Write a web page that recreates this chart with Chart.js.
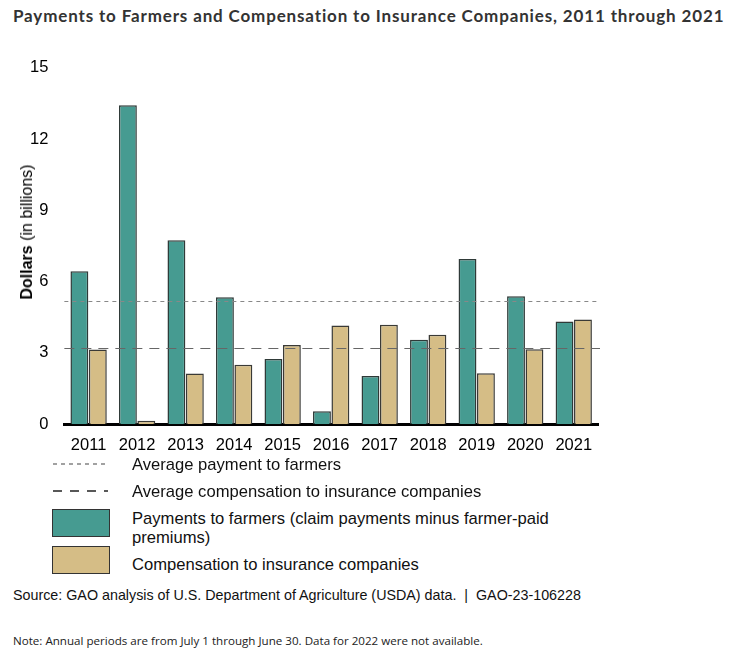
<!DOCTYPE html>
<html>
<head>
<meta charset="utf-8">
<script src="https://cdn.jsdelivr.net/npm/chart.js@4.4.1/dist/chart.umd.min.js"></script>
<style>
  body { margin: 0; width: 741px; height: 654px; background: #fff; position: relative; overflow: hidden; font-family: "Liberation Sans", Arial, sans-serif; }
  #title { position: absolute; left: 13px; top: 5px; font-family: Lato, sans-serif; font-weight: 700; font-size: 17px; color: #333; letter-spacing: 0.85px; white-space: nowrap; }
  #chartBox { position: absolute; left: 0; top: 50px; width: 620px; height: 410px; }
  #ytitle { position: absolute; left: 27px; top: 232px; transform: translate(-50%, -50%) rotate(-90deg); white-space: nowrap; font-size: 16px; color: #000; }
  .leg { position: absolute; left: 132px; font-size: 16.6px; color: #111; line-height: 19px; white-space: nowrap; }
  .sw { position: absolute; left: 52px; width: 56px; border: 1.5px solid #333; }
  #source { position: absolute; left: 13px; top: 587px; font-size: 14.3px; color: #111; }
  #note { position: absolute; left: 13px; top: 633px; font-family: "Open Sans", sans-serif; font-size: 11.6px; color: #222; white-space: nowrap; }
</style>
</head>
<body>
<div id="title">Payments to Farmers and Compensation to Insurance Companies, 2011 through 2021</div>
<div id="chartBox"><canvas id="gaoChart"></canvas></div>
<div id="ytitle"><b>Dollars</b> (in billions)</div>

<svg style="position:absolute;left:52px;top:458px" width="60" height="40">
  <line x1="1" y1="6" x2="56" y2="6" stroke="#444" stroke-width="1.2" stroke-dasharray="4 4"/>
  <line x1="1" y1="33" x2="56" y2="33" stroke="#222" stroke-width="1.4" stroke-dasharray="9 8"/>
</svg>
<div class="leg" style="top:455px">Average payment to farmers</div>
<div class="leg" style="top:482px">Average compensation to insurance companies</div>
<div class="sw" style="top:509px;height:26px;background:#469b91"></div>
<div class="leg" style="top:509px">Payments to farmers (claim payments minus farmer-paid<br>premiums)</div>
<div class="sw" style="top:546px;height:26px;background:#d5bd86"></div>
<div class="leg" style="top:555px">Compensation to insurance companies</div>

<div id="source">Source: GAO analysis of U.S. Department of Agriculture (USDA) data.&nbsp; |&nbsp; GAO-23-106228</div>
<div id="note">Note: Annual periods are from July 1 through June 30. Data for 2022 were not available.</div>

<script>
// Datos (miles de millones de dólares)
const years = ['2011', '2012', '2013', '2014', '2015', '2016', '2017', '2018', '2019', '2020', '2021'];
const farmerPayments = [6.44, 13.43, 7.74, 5.34, 2.74, 0.55, 2.03, 3.56, 6.95, 5.39, 4.32];
const insurerCompensation = [3.14, 0.15, 2.13, 2.5, 3.33, 4.15, 4.19, 3.77, 2.15, 3.16, 4.41];
const averageFarmers = 5.2;
const averageInsurers = 3.2;
const yTicks = [0, 3, 6, 9, 12, 15];

// Líneas de promedio dibujadas con la escala y
const averageLines = {
    id: 'averageLines',
    afterDatasetsDraw(chart) {
        const { ctx, chartArea, scales } = chart;
        const lines = [
            { value: averageFarmers, dash: [4, 4], color: '#888' },
            { value: averageInsurers, dash: [10, 7], color: '#666' }
        ];
        ctx.save();
        lines.forEach(l => {
            const y = Math.round(scales.y.getPixelForValue(l.value)) + 0.5;
            ctx.beginPath();
            ctx.setLineDash(l.dash);
            ctx.strokeStyle = l.color;
            ctx.lineWidth = 1.2;
            ctx.moveTo(chartArea.left, y);
            ctx.lineTo(chartArea.right + 2, y);
            ctx.stroke();
        });
        ctx.restore();
    }
};

new Chart(document.getElementById('gaoChart'), {
    type: 'bar',
    data: {
        labels: years,
        datasets: [{
            label: 'Payments to farmers (claim payments minus farmer-paid premiums)',
            data: farmerPayments,
            backgroundColor: '#469b91',
            borderColor: '#2f3a38',
            borderWidth: 1.5
        }, {
            label: 'Compensation to insurance companies',
            data: insurerCompensation,
            backgroundColor: '#d5bd86',
            borderColor: '#3a3a36',
            borderWidth: 1.5
        }]
    },
    options: {
        responsive: true,
        maintainAspectRatio: false,
        animation: false,
        layout: { padding: { left: 22, right: 22, top: 13, bottom: 2 } },
        datasets: { bar: { categoryPercentage: 0.76, barPercentage: 0.97 } },
        plugins: {
            legend: { display: false },
            tooltip: { enabled: false }
        },
        scales: {
            x: {
                grid: { display: false },
                border: { display: true, color: '#000', width: 3 },
                ticks: { color: '#000', font: { family: 'Liberation Sans', size: 16.5 }, padding: 3, maxRotation: 0 }
            },
            y: {
                min: 0,
                max: 15,
                afterBuildTicks: axis => { axis.ticks = yTicks.map(v => ({ value: v })); },
                grid: { display: false },
                border: { display: false },
                ticks: { color: '#000', font: { family: 'Liberation Sans', size: 16.5 }, padding: 8 }
            }
        }
    },
    plugins: [averageLines]
});
</script>
</body>
</html>
